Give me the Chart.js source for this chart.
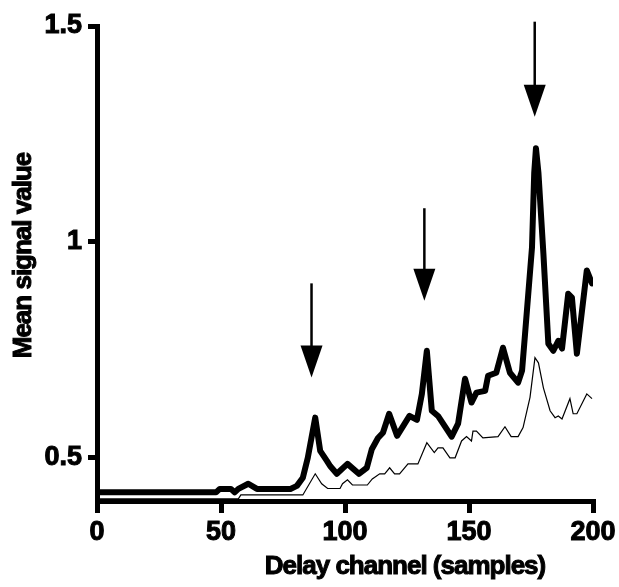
<!DOCTYPE html>
<html>
<head>
<meta charset="utf-8">
<style>
  html, body { margin: 0; padding: 0; background: #fff; }
</style>
</head>
<body>
<canvas id="signalChart" width="619" height="587"></canvas>

<script src="https://cdn.jsdelivr.net/npm/chart.js"></script>
<script>
// heavy trace
const thickX = [0, 48, 49.5, 54, 55.5, 57, 61, 64.5, 78, 80.6, 83, 85, 88, 90, 92.7, 94, 96.7, 101, 105.6, 108.8,
  110.8, 113.3, 115.3, 117.8, 121, 126, 129, 131, 133, 135, 137.5, 143, 145.6, 148.4, 151, 153, 156.5, 157.7,
  161, 163.7, 166.5, 169.8, 171.4, 172.6, 175.4, 176.3, 177, 178, 180, 182, 184, 186, 187.5, 190, 191.5,
  193.5, 197.5, 199.6];
const thickY = [0.42, 0.42, 0.428, 0.428, 0.42, 0.428, 0.44, 0.428, 0.428, 0.435, 0.454, 0.5, 0.593, 0.516, 0.493,
  0.481, 0.463, 0.486, 0.463, 0.477, 0.52, 0.546, 0.558, 0.602, 0.551, 0.597, 0.588, 0.648, 0.748, 0.609,
  0.597, 0.549, 0.579, 0.683, 0.628, 0.651, 0.655, 0.69, 0.697, 0.755, 0.697, 0.674, 0.702, 0.787, 0.987,
  1.16, 1.217, 1.16, 0.973, 0.764, 0.748, 0.771, 0.753, 0.88, 0.871, 0.741, 0.934, 0.904];

// light trace
const thinX = [0, 57, 58, 83, 88, 90.6, 93, 98, 99, 101, 103, 109, 111, 114, 116, 118, 120, 122, 125.4, 129.4,
  133, 136, 137.5, 139.5, 142.3, 144.4, 147, 149, 151, 151.6, 153, 155.6, 161.7, 164.5, 167, 169.8, 171.8,
  174.6, 176.6, 178, 180, 182.7, 184.7, 186, 187.5, 190.7, 192, 193.5, 197.5, 199.6];
const thinY = [0.405, 0.405, 0.414, 0.414, 0.463, 0.44, 0.429, 0.429, 0.44, 0.449, 0.437, 0.437, 0.451, 0.463,
  0.463, 0.477, 0.463, 0.463, 0.486, 0.486, 0.535, 0.512, 0.523, 0.523, 0.5, 0.5, 0.539, 0.549, 0.539,
  0.562, 0.562, 0.546, 0.549, 0.572, 0.549, 0.549, 0.57, 0.64, 0.732, 0.72, 0.662, 0.609, 0.593, 0.597,
  0.59, 0.637, 0.602, 0.602, 0.648, 0.637];

const xTicks = [0, 50, 100, 150, 200];
const yTicks = [0.5, 1, 1.5];

// arrows above the three peaks
const arrowX = [86.5, 132, 176.5];
const arrowTop = [0.904, 1.078, 1.51];
const arrowTip = [0.686, 0.864, 1.29];

const FONT = '"Liberation Sans", Arial, Helvetica, sans-serif';

function toPoints(xs, ys) {
  return xs.map((x, i) => ({ x: x, y: ys[i] }));
}

const arrowPlugin = {
  id: 'arrows',
  afterDatasetsDraw(chart) {
    const ctx = chart.ctx;
    const xs = chart.scales.x, ys = chart.scales.y;
    ctx.save();
    ctx.fillStyle = '#000';
    ctx.strokeStyle = '#000';
    ctx.lineWidth = 2.5;
    for (let i = 0; i < arrowX.length; i++) {
      const px = xs.getPixelForValue(arrowX[i]);
      const top = ys.getPixelForValue(arrowTop[i]);
      const tip = ys.getPixelForValue(arrowTip[i]);
      ctx.beginPath();
      ctx.moveTo(px, top);
      ctx.lineTo(px, tip - 20);
      ctx.stroke();
      ctx.beginPath();
      ctx.moveTo(px - 11, tip - 32);
      ctx.lineTo(px + 11, tip - 32);
      ctx.lineTo(px, tip);
      ctx.closePath();
      ctx.fill();
    }
    ctx.restore();
  }
};

// axis titles, drawn heavy like the original
const titlePlugin = {
  id: 'axisTitles',
  afterDraw(chart) {
    const ctx = chart.ctx;
    const area = chart.chartArea;
    ctx.save();
    ctx.fillStyle = '#000';
    ctx.strokeStyle = '#000';
    ctx.lineWidth = 1;
    ctx.font = 'bold 26px ' + FONT;
    ctx.letterSpacing = '-1px';
    ctx.textAlign = 'center';
    ctx.textBaseline = 'alphabetic';
    const tx = (area.left + area.right) / 2 + 60;
    const ty = chart.height - 13;
    ctx.fillText('Delay channel (samples)', tx, ty);
    ctx.strokeText('Delay channel (samples)', tx, ty);

    ctx.translate(24, (area.top + area.bottom) / 2 - 8);
    ctx.rotate(-Math.PI / 2);
    ctx.textBaseline = 'middle';
    ctx.fillText('Mean signal value', 0, 0);
    ctx.strokeText('Mean signal value', 0, 0);
    ctx.restore();
  }
};

const canvas = document.getElementById('signalChart');
canvas.getContext('2d').letterSpacing = '-1px';

const tickFont = { family: FONT, size: 27, weight: 'bold' };

new Chart(canvas, {
  type: 'line',
  data: {
    datasets: [
      {
        data: toPoints(thinX, thinY),
        borderColor: '#000',
        borderWidth: 1.2,
        pointRadius: 0,
        tension: 0
      },
      {
        data: toPoints(thickX, thickY),
        borderColor: '#000',
        borderWidth: 6,
        borderJoinStyle: 'round',
        borderCapStyle: 'round',
        pointRadius: 0,
        tension: 0
      }
    ]
  },
  options: {
    responsive: false,
    animation: false,
    devicePixelRatio: 1,
    layout: { padding: { top: 26, right: 26, left: 0, bottom: 0 } },
    plugins: { legend: { display: false }, tooltip: { enabled: false } },
    scales: {
      x: {
        type: 'linear',
        min: 0,
        max: 200,
        afterBuildTicks: s => { s.ticks = xTicks.map(v => ({ value: v })); },
        afterFit: s => { s.height = 86; },
        border: { color: '#000', width: 5 },
        grid: { drawOnChartArea: false, color: '#000', lineWidth: 5, tickLength: 12 },
        ticks: { color: '#000', padding: 3, maxRotation: 0, font: tickFont,
                 textStrokeColor: '#000', textStrokeWidth: 1 }
      },
      y: {
        type: 'linear',
        min: 0.4,
        max: 1.5,
        afterBuildTicks: s => { s.ticks = yTicks.map(v => ({ value: v })); },
        afterFit: s => { s.width = 97; },
        border: { color: '#000', width: 5 },
        grid: { drawOnChartArea: false, color: '#000', lineWidth: 5, tickLength: 9 },
        ticks: { color: '#000', padding: 6, font: tickFont,
                 textStrokeColor: '#000', textStrokeWidth: 1,
                 callback: v => String(v) }
      }
    }
  },
  plugins: [arrowPlugin, titlePlugin]
});
</script>
</body>
</html>
